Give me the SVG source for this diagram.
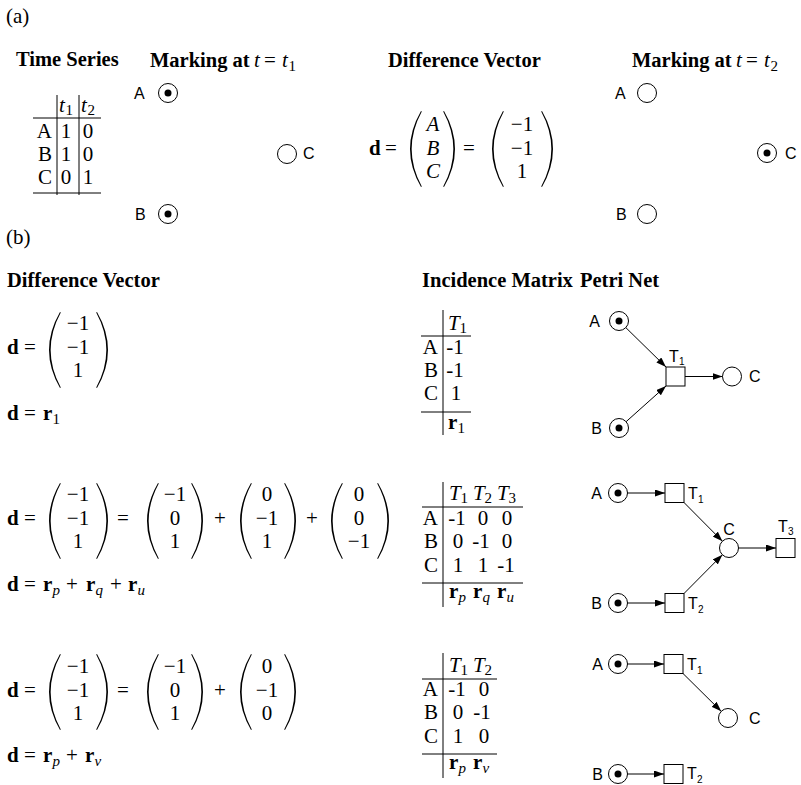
<svg xmlns="http://www.w3.org/2000/svg" xmlns:xlink="http://www.w3.org/1999/xlink" width="801" height="785" viewBox="0 0 801 785">
<style>
.s{font-family:"Liberation Serif","Times New Roman",serif;font-size:21px;fill:#000}
.h{font-size:20.5px;font-weight:bold}
.b{font-weight:bold}
.i{font-style:italic}
.m{text-anchor:middle}
.e{text-anchor:end}
.sub{font-size:15px}
.l{font-family:"Liberation Sans",Arial,sans-serif;font-size:16px;fill:#000}
.ls{font-family:"Liberation Sans",Arial,sans-serif;font-size:10px;fill:#000}
.pl{fill:#fff;stroke:#000;stroke-width:1}
.tr{fill:#fff;stroke:#000;stroke-width:1}
.tok{fill:#000}
.rule{stroke:#000;stroke-width:1;fill:none}
.arc{stroke:#000;stroke-width:1;fill:none;marker-end:url(#ah)}
</style>
<defs>
<marker id="ah" viewBox="0 0 10 7" refX="10" refY="3.5" markerWidth="10" markerHeight="7" markerUnits="userSpaceOnUse" orient="auto"><path d="M0,0 L10,3.5 L0,7 Z" fill="#000"/></marker>
<path id="lp" d="M11,0 Q-11,38 11,76 L11.8,75.5 Q-8.5,38 11.8,0.5 Z" fill="#000"/>
<path id="rp" d="M0,0 Q22,38 0,76 L-0.8,75.5 Q19.5,38 -0.8,0.5 Z" fill="#000"/>
</defs>
<rect width="801" height="785" fill="#fff"/>

<!-- (a) -->
<text class="s" x="6" y="23" font-size="24">(a)</text>
<text class="s h" x="16" y="66">Time Series</text>
<text class="s" y="67"><tspan class="h" x="150">Marking at</tspan><tspan class="i" x="254">t</tspan><tspan x="264">=</tspan><tspan class="i" x="282">t</tspan><tspan class="sub" x="288.5" dy="4">1</tspan></text>
<text class="s h" x="388" y="67">Difference Vector</text>
<text class="s" y="67"><tspan class="h" x="632">Marking at</tspan><tspan class="i" x="736">t</tspan><tspan x="746">=</tspan><tspan class="i" x="764">t</tspan><tspan class="sub" x="770.5" dy="4">2</tspan></text>

<g id="timeseries-table">
<path class="rule" d="M57,95 V195 M79,95 V195 M33,118 H101 M33,193 H101"/>
<text class="s i" x="59" y="112">t</text><text class="s sub" x="65.5" y="115">1</text>
<text class="s i" x="81" y="112">t</text><text class="s sub" x="87.5" y="115">2</text>
<text class="s e" x="52" y="138">A</text><text class="s m" x="66" y="138">1</text><text class="s m" x="88" y="138">0</text>
<text class="s e" x="52" y="161">B</text><text class="s m" x="66" y="161">1</text><text class="s m" x="88" y="161">0</text>
<text class="s e" x="52" y="184">C</text><text class="s m" x="66" y="184">0</text><text class="s m" x="88" y="184">1</text>
</g>

<g id="a-t1-A"><circle class="pl" cx="168" cy="93" r="9.5"/><circle class="tok" cx="168" cy="93" r="3.5"/><text class="l" x="134" y="99">A</text></g>
<g id="a-t1-C"><circle class="pl" cx="287" cy="154" r="9.5"/><text class="l" x="303" y="159">C</text></g>
<g id="a-t1-B"><circle class="pl" cx="168" cy="214" r="9.5"/><circle class="tok" cx="168" cy="214" r="3.5"/><text class="l" x="135" y="220">B</text></g>

<g id="a-diffvec">
<text class="s b" x="369" y="155">d</text><text class="s m" x="391" y="155">=</text>
<use xlink:href="#lp" x="410" y="111"/>
<text class="s i m" x="433" y="131">A</text><text class="s i m" x="433" y="155">B</text><text class="s i m" x="433" y="178">C</text>
<use xlink:href="#rp" x="444" y="111"/>
<text class="s m" x="469" y="155">=</text>
<use xlink:href="#lp" x="492" y="111"/>
<text class="s m" x="522" y="131">−1</text><text class="s m" x="522" y="155">−1</text><text class="s m" x="522" y="178">1</text>
<use xlink:href="#rp" x="542" y="111"/>
</g>

<g id="a-t2-A"><circle class="pl" cx="647" cy="93" r="9.5"/><text class="l" x="615" y="99">A</text></g>
<g id="a-t2-C"><circle class="pl" cx="767" cy="153" r="9.5"/><circle class="tok" cx="767" cy="153" r="3.5"/><text class="l" x="785" y="159">C</text></g>
<g id="a-t2-B"><circle class="pl" cx="647" cy="214" r="9.5"/><text class="l" x="616" y="220">B</text></g>

<!-- (b) -->
<text class="s" x="6" y="244" font-size="24">(b)</text>
<text class="s h" x="7" y="287">Difference Vector</text>
<text class="s h" x="422" y="287">Incidence Matrix</text>
<text class="s h" x="580" y="287">Petri Net</text>

<!-- row 1 -->
<g id="b1-eq">
<text class="s b" x="7" y="354">d</text><text class="s m" x="30" y="354">=</text>
<use xlink:href="#lp" x="49" y="312"/>
<text class="s m" x="78" y="330">−1</text><text class="s m" x="78" y="354">−1</text><text class="s m" x="78" y="377">1</text>
<use xlink:href="#rp" x="97" y="312"/>
<text class="s" y="420"><tspan class="b" x="7">d</tspan><tspan x="24">=</tspan><tspan class="b" x="43">r</tspan><tspan class="sub" x="52.5" dy="4">1</tspan></text>
</g>
<g id="b1-table">
<path class="rule" d="M443,310 V435 M421,336 H471 M421,412 H471"/>
<text class="s i" x="448" y="330">T</text><text class="s sub" x="459.5" y="333">1</text>
<text class="s e" x="438" y="354">A</text><text class="s m" x="455" y="354">-1</text>
<text class="s e" x="438" y="377">B</text><text class="s m" x="455" y="377">-1</text>
<text class="s e" x="438" y="400">C</text><text class="s m" x="456" y="400">1</text>
<text class="s b" x="448" y="429">r</text><text class="s sub" x="457.5" y="433">1</text>
</g>

<g id="b1-A"><circle class="pl" cx="619" cy="321" r="9.5"/><circle class="tok" cx="619" cy="321" r="3.5"/><text class="l e" x="600" y="327">A</text></g>
<g id="b1-B"><circle class="pl" cx="619" cy="428" r="9.5"/><circle class="tok" cx="619" cy="428" r="3.5"/><text class="l e" x="602" y="434">B</text></g>
<g id="b1-T1"><rect class="tr" x="666" y="367" width="19" height="19"/><text class="l" x="669" y="362">T</text><text class="ls" x="679" y="365">1</text></g>
<g id="b1-C"><circle class="pl" cx="732" cy="376.5" r="9.5"/><text class="l" x="749" y="382">C</text></g>

<!-- row 2 -->
<g id="b2-eq">
<text class="s b" x="7" y="525">d</text><text class="s m" x="30" y="525">=</text>
<use xlink:href="#lp" x="49" y="483"/>
<text class="s m" x="78" y="501">−1</text><text class="s m" x="78" y="525">−1</text><text class="s m" x="78" y="548">1</text>
<use xlink:href="#rp" x="97" y="483"/>
<text class="s m" x="123" y="525">=</text>
<use xlink:href="#lp" x="147" y="483"/>
<text class="s m" x="175" y="501">−1</text><text class="s m" x="175" y="525">0</text><text class="s m" x="175" y="548">1</text>
<use xlink:href="#rp" x="192" y="483"/>
<text class="s m" x="220" y="525">+</text>
<use xlink:href="#lp" x="240" y="483"/>
<text class="s m" x="267" y="501">0</text><text class="s m" x="267" y="525">−1</text><text class="s m" x="267" y="548">1</text>
<use xlink:href="#rp" x="285" y="483"/>
<text class="s m" x="312" y="525">+</text>
<use xlink:href="#lp" x="331" y="483"/>
<text class="s m" x="359" y="501">0</text><text class="s m" x="359" y="525">0</text><text class="s m" x="359" y="548">−1</text>
<use xlink:href="#rp" x="378" y="483"/>
<text class="s" y="591"><tspan class="b" x="7">d</tspan><tspan x="24">=</tspan><tspan class="b" x="43">r</tspan><tspan class="i sub" x="52.5" dy="4">p</tspan><tspan x="66" dy="-4">+</tspan><tspan class="b" x="86">r</tspan><tspan class="i sub" x="95.5" dy="4">q</tspan><tspan x="110" dy="-4">+</tspan><tspan class="b" x="128">r</tspan><tspan class="i sub" x="137.5" dy="4">u</tspan></text>
</g>
<g id="b2-table">
<path class="rule" d="M443,482 V607 M422,507 H523 M422,583 H523"/>
<text class="s i" x="449" y="500">T</text><text class="s sub" x="460.5" y="503">1</text>
<text class="s i" x="473" y="500">T</text><text class="s sub" x="484.5" y="503">2</text>
<text class="s i" x="497" y="500">T</text><text class="s sub" x="508.5" y="503">3</text>
<text class="s e" x="438" y="525">A</text><text class="s m" x="457" y="525">-1</text><text class="s m" x="483" y="525">0</text><text class="s m" x="507" y="525">0</text>
<text class="s e" x="438" y="548">B</text><text class="s m" x="458" y="548">0</text><text class="s m" x="481" y="548">-1</text><text class="s m" x="507" y="548">0</text>
<text class="s e" x="438" y="572">C</text><text class="s m" x="458" y="572">1</text><text class="s m" x="483" y="572">1</text><text class="s m" x="506" y="572">-1</text>
<text class="s b" x="449" y="598">r</text><text class="s i sub" x="458.5" y="602">p</text>
<text class="s b" x="473" y="598">r</text><text class="s i sub" x="482.5" y="602">q</text>
<text class="s b" x="497" y="598">r</text><text class="s i sub" x="506.5" y="602">u</text>
</g>

<g id="b2-A"><circle class="pl" cx="618" cy="493" r="9.5"/><circle class="tok" cx="618" cy="493" r="3.5"/><text class="l e" x="602" y="499">A</text></g>
<g id="b2-T1"><rect class="tr" x="665" y="483.5" width="19" height="19"/><text class="l" x="688" y="499">T</text><text class="ls" x="698" y="503">1</text></g>
<g id="b2-C"><circle class="pl" cx="729" cy="548" r="9.5"/><text class="l m" x="729" y="535">C</text></g>
<g id="b2-T3"><rect class="tr" x="776" y="538.5" width="19" height="19"/><text class="l" x="778" y="532">T</text><text class="ls" x="788" y="535">3</text></g>
<g id="b2-B"><circle class="pl" cx="618" cy="603" r="9.5"/><circle class="tok" cx="618" cy="603" r="3.5"/><text class="l e" x="602" y="609">B</text></g>
<g id="b2-T2"><rect class="tr" x="665" y="593.5" width="19" height="19"/><text class="l" x="688" y="609">T</text><text class="ls" x="698" y="613">2</text></g>

<!-- row 3 -->
<g id="b3-eq">
<text class="s b" x="7" y="697">d</text><text class="s m" x="30" y="697">=</text>
<use xlink:href="#lp" x="49" y="654"/>
<text class="s m" x="78" y="673">−1</text><text class="s m" x="78" y="697">−1</text><text class="s m" x="78" y="720">1</text>
<use xlink:href="#rp" x="97" y="654"/>
<text class="s m" x="123" y="697">=</text>
<use xlink:href="#lp" x="147" y="654"/>
<text class="s m" x="175" y="673">−1</text><text class="s m" x="175" y="697">0</text><text class="s m" x="175" y="720">1</text>
<use xlink:href="#rp" x="192" y="654"/>
<text class="s m" x="220" y="697">+</text>
<use xlink:href="#lp" x="240" y="654"/>
<text class="s m" x="267" y="673">0</text><text class="s m" x="267" y="697">−1</text><text class="s m" x="267" y="720">0</text>
<use xlink:href="#rp" x="285" y="654"/>
<text class="s" y="762"><tspan class="b" x="7">d</tspan><tspan x="24">=</tspan><tspan class="b" x="43">r</tspan><tspan class="i sub" x="52.5" dy="4">p</tspan><tspan x="66" dy="-4">+</tspan><tspan class="b" x="85">r</tspan><tspan class="i sub" x="94.5" dy="4">v</tspan></text>
</g>
<g id="b3-table">
<path class="rule" d="M443,653 V778 M422,679 H497 M422,754 H497"/>
<text class="s i" x="449" y="672">T</text><text class="s sub" x="460.5" y="675">1</text>
<text class="s i" x="473" y="672">T</text><text class="s sub" x="484.5" y="675">2</text>
<text class="s e" x="438" y="696">A</text><text class="s m" x="457" y="696">-1</text><text class="s m" x="484" y="696">0</text>
<text class="s e" x="438" y="719">B</text><text class="s m" x="458" y="719">0</text><text class="s m" x="482" y="719">-1</text>
<text class="s e" x="438" y="743">C</text><text class="s m" x="458" y="743">1</text><text class="s m" x="484" y="743">0</text>
<text class="s b" x="449" y="769">r</text><text class="s i sub" x="458.5" y="773">p</text>
<text class="s b" x="473" y="769">r</text><text class="s i sub" x="482.5" y="773">v</text>
</g>

<g id="b3-A"><circle class="pl" cx="618" cy="664" r="9.5"/><circle class="tok" cx="618" cy="664" r="3.5"/><text class="l e" x="603" y="670">A</text></g>
<g id="b3-T1"><rect class="tr" x="664" y="654.5" width="19" height="19"/><text class="l" x="687" y="670">T</text><text class="ls" x="697" y="674">1</text></g>
<g id="b3-C"><circle class="pl" cx="728" cy="718" r="9.5"/><text class="l" x="749" y="724">C</text></g>
<g id="b3-B"><circle class="pl" cx="618" cy="774" r="9.5"/><circle class="tok" cx="618" cy="774" r="3.5"/><text class="l e" x="603" y="780">B</text></g>
<g id="b3-T2"><rect class="tr" x="664" y="764.5" width="19" height="19"/><text class="l" x="687" y="779">T</text><text class="ls" x="697" y="783">2</text></g>

<g id="connectors">
<path class="arc" d="M625.8,327.6 L666,367"/>
<path class="arc" d="M626.1,421.7 L666,386"/>
<path class="arc" d="M685,376.5 L722.5,376.5"/>
<path class="arc" d="M627.5,493 L665,493"/>
<path class="arc" d="M684,502.5 L722.4,541.2"/>
<path class="arc" d="M627.5,603 L665,603"/>
<path class="arc" d="M684,593.5 L722.4,554.8"/>
<path class="arc" d="M738.5,548 L776,548"/>
<path class="arc" d="M627.5,664 L664,664"/>
<path class="arc" d="M683,673.5 L721.2,711.3"/>
<path class="arc" d="M627.5,774 L664,774"/>
</g>
</svg>
